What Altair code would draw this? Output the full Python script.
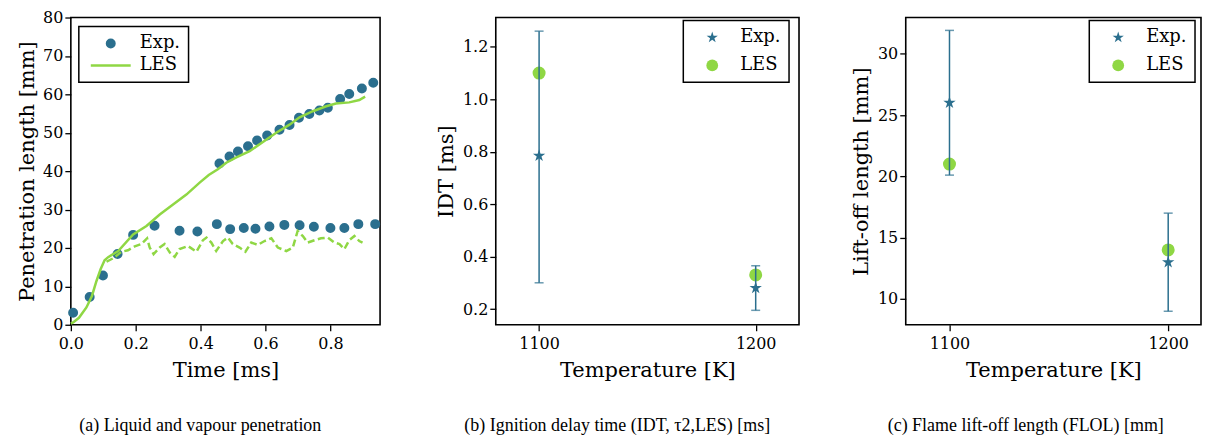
import altair as alt
import pandas as pd

BLUE = "#2b6f8e"
GREEN = "#8fd744"
STAR = ("M0,-1L0.2245,-0.309L0.951,-0.309L0.3633,0.118L0.5878,0.809L0,0.382"
        "L-0.5878,0.809L-0.3633,0.118L-0.951,-0.309L-0.2245,-0.309Z")
DOT = "M-0.75,0A0.75,0.75 0 1,0 0.75,0A0.75,0.75 0 1,0 -0.75,0Z"
DASH = "M-4,0L4,0"
SERIES = ["Exp.", "LES"]
FONT = "DejaVu Serif"
CAP_FONT = "Liberation Serif"

# ---------------- panel (a): penetration ----------------
exp_vap_t = [0.007, 0.058, 0.099, 0.144, 0.192, 0.458, 0.489, 0.515, 0.546, 0.574,
             0.605, 0.643, 0.674, 0.703, 0.735, 0.766, 0.792, 0.830, 0.858, 0.897, 0.932]
exp_vap_y = [3.1, 7.2, 12.8, 18.4, 23.4, 42.0, 43.8, 45.1, 46.5, 48.0,
             49.3, 50.8, 52.0, 53.9, 54.9, 55.8, 56.5, 58.8, 60.1, 61.5, 63.0]
exp_liq_t = [0.258, 0.335, 0.390, 0.450, 0.491, 0.533, 0.569, 0.612, 0.658, 0.705,
             0.749, 0.800, 0.843, 0.886, 0.938]
exp_liq_y = [25.8, 24.5, 24.3, 26.2, 24.9, 25.2, 25.0, 25.6, 26.0, 25.9,
             25.5, 25.2, 25.2, 26.2, 26.2]

les_vap_t = [0.0, 0.007, 0.025, 0.048, 0.065, 0.079, 0.092, 0.104, 0.115, 0.146,
             0.192, 0.233, 0.274, 0.315, 0.356, 0.397, 0.425, 0.453, 0.479, 0.510,
             0.551, 0.592, 0.633, 0.674, 0.705, 0.746, 0.787, 0.817, 0.858, 0.889, 0.907]
les_vap_y = [0.3, 0.6, 1.8, 4.5, 7.5, 11.4, 14.5, 16.8, 17.6, 19.2,
             23.5, 25.7, 28.7, 31.3, 33.9, 37.0, 39.0, 40.5, 42.2, 43.6,
             45.2, 47.6, 50.0, 52.1, 54.0, 55.6, 56.9, 57.6, 57.9, 58.5, 59.4]

les_liq_t = [0.110, 0.130, 0.156, 0.176, 0.197, 0.217, 0.235, 0.243, 0.255, 0.274,
             0.289, 0.305, 0.320, 0.335, 0.361, 0.387, 0.407, 0.418, 0.433, 0.448,
             0.469, 0.484, 0.499, 0.520, 0.538, 0.556, 0.576, 0.597, 0.618, 0.638,
             0.664, 0.684, 0.699, 0.715, 0.730, 0.751, 0.771, 0.792, 0.812, 0.828,
             0.843, 0.858, 0.874, 0.889, 0.899]
les_liq_y = [16.4, 17.3, 19.0, 19.4, 20.4, 21.0, 22.5, 20.1, 18.4, 20.1,
             21.0, 18.8, 17.7, 19.7, 20.5, 19.0, 22.0, 22.7, 21.4, 19.2,
             21.8, 22.7, 21.0, 20.1, 19.0, 21.4, 20.8, 21.8, 22.5, 20.1,
             19.2, 20.1, 24.4, 23.1, 21.4, 22.0, 22.5, 22.7, 21.4, 21.0,
             19.7, 22.0, 23.1, 21.8, 21.4]

# ---------------- panels (b), (c) ----------------
temps = [1100, 1200]
idt_exp = [0.785, 0.28]
idt_lo = [0.30, 0.195]
idt_hi = [1.26, 0.365]
idt_les = [1.10, 0.33]

lol_exp = [26.0, 13.0]
lol_lo = [20.1, 9.0]
lol_hi = [31.9, 17.0]
lol_les = [21.0, 14.0]


def caption(text):
    return alt.TitleParams(text=text, orient="bottom", anchor="middle", frame="bounds",
                           offset=37, font=CAP_FONT, fontSize=18,
                           fontWeight="normal", color="black")


# panel a
exp_a = pd.DataFrame({"t": exp_vap_t + exp_liq_t, "y": exp_vap_y + exp_liq_y})
exp_a["series"] = "Exp."
vap_a = pd.DataFrame({"t": les_vap_t, "y": les_vap_y})
liq_a = pd.DataFrame({"t": les_liq_t, "y": les_liq_y})

xa = alt.X("t:Q", scale=alt.Scale(domain=[0, 0.953], nice=False, zero=False, padding=0),
           axis=alt.Axis(values=[0.0, 0.2, 0.4, 0.6, 0.8], format=".1f",
                         title="Time [ms]", titlePadding=8, labelPadding=5))
ya = alt.Y("y:Q", scale=alt.Scale(domain=[0, 80], nice=False, padding=0),
           axis=alt.Axis(values=[0, 10, 20, 30, 40, 50, 60, 70, 80],
                         title="Penetration length [mm]", titlePadding=5))

legend_a = alt.Legend(title=None, orient="none", legendX=8, legendY=9,
                      symbolSize=100, symbolOffset=15, labelOffset=20,
                      symbolStrokeWidth=2.5, rowPadding=4, padding=8)
col_scale_a = alt.Scale(domain=SERIES, range=[BLUE, GREEN])

pts_a = alt.Chart(exp_a).mark_point(size=100, opacity=1, strokeWidth=2.5).encode(
    x=xa, y=ya,
    fill=alt.Fill("series:N", scale=col_scale_a, legend=legend_a),
    stroke=alt.Stroke("series:N", scale=col_scale_a, legend=legend_a),
    shape=alt.Shape("series:N", scale=alt.Scale(domain=SERIES, range=[DOT, DASH]),
                    legend=legend_a))
vap_line = alt.Chart(vap_a).mark_line(color=GREEN, strokeWidth=2.5).encode(x=xa, y=ya)
liq_line = alt.Chart(liq_a).mark_line(color=GREEN, strokeWidth=2.5,
                                      strokeDash=[7, 3.5]).encode(x=xa, y=ya)
panel_a = alt.layer(pts_a, vap_line, liq_line).properties(
    width=310, height=308, title=caption("(a) Liquid and vapour penetration"))


def panel(exp_v, lo, hi, les_v, xdom, ydom, yvals, yfmt, ytitle, cap, lx, tpad, w):
    pts = pd.DataFrame({"T": temps * 2, "v": exp_v + les_v,
                        "series": ["Exp."] * 2 + ["LES"] * 2})
    err = pd.DataFrame({"T": temps, "lo": lo, "hi": hi})
    x = alt.X("T:Q", scale=alt.Scale(domain=xdom, nice=False, zero=False, padding=0),
              axis=alt.Axis(values=temps, format="d", title="Temperature [K]",
                            titlePadding=8, labelPadding=5))
    yscale = alt.Scale(domain=ydom, nice=False, zero=False, padding=0)
    yaxis = alt.Axis(values=yvals, format=yfmt, title=ytitle, titlePadding=tpad)
    leg = alt.Legend(title=None, orient="none", legendX=lx, legendY=3,
                     symbolSize=140, symbolOffset=12, labelOffset=19,
                     rowPadding=10, padding=8)
    color = alt.Color("series:N", scale=alt.Scale(domain=SERIES, range=[BLUE, GREEN]),
                      legend=leg)
    shape = alt.Shape("series:N", scale=alt.Scale(domain=SERIES, range=[STAR, "circle"]),
                      legend=leg)
    les = alt.Chart(pts).transform_filter("datum.series === 'LES'").mark_point(
        filled=True, size=170, opacity=1).encode(
        x=x, y=alt.Y("v:Q", scale=yscale, axis=yaxis), color=color, shape=shape)
    rule = alt.Chart(err).mark_rule(color=BLUE, strokeWidth=1.5).encode(
        x=x, y=alt.Y("lo:Q", scale=yscale, axis=yaxis), y2="hi:Q")
    caps = alt.Chart(err).transform_fold(["lo", "hi"], as_=["k", "val"]).mark_tick(
        color=BLUE, orient="horizontal", size=9, thickness=1.5).encode(
        x=x, y=alt.Y("val:Q", scale=yscale, axis=yaxis))
    exp = alt.Chart(pts).transform_filter("datum.series === 'Exp.'").mark_point(
        filled=True, size=170, opacity=1).encode(
        x=x, y=alt.Y("v:Q", scale=yscale, axis=yaxis), color=color, shape=shape)
    return alt.layer(les, rule, caps, exp).properties(
        width=w, height=308, title=caption(cap))


panel_b = panel(idt_exp, idt_lo, idt_hi, idt_les, [1080, 1220], [0.14, 1.312],
                [0.2, 0.4, 0.6, 0.8, 1.0, 1.2], ".1f", "IDT [ms]",
                "(b) Ignition delay time (IDT, \u03c42,LES) [ms]", 188, 6, 304)
panel_c = panel(lol_exp, lol_lo, lol_hi, lol_les, [1080, 1215], [7.9, 32.95],
                [10, 15, 20, 25, 30], "d", "Lift-off length [mm]",
                "(c) Flame lift-off length (FLOL) [mm]", 184, 6, 296)

chart = alt.hconcat(panel_a, panel_b, panel_c, spacing=49).resolve_scale(
    color="independent", shape="independent", fill="independent",
    stroke="independent").resolve_legend(
    color="independent", shape="independent", fill="independent",
    stroke="independent").properties(
    padding={"left": 7, "top": 0, "right": 0, "bottom": 0},
    background="white").configure_view(
    stroke="black", strokeWidth=1.6).configure_axis(
    labelFont=FONT, labelFontSize=16, labelColor="black",
    titleFont=FONT, titleFontSize=21, titleFontWeight="normal",
    titleColor="black", tickColor="black", tickWidth=1.3, tickSize=6,
    labelFlush=False, domain=False, grid=False, labelPadding=2).configure_legend(
    labelFont=FONT, labelFontSize=18, labelColor="black",
    strokeColor="black", fillColor="white", cornerRadius=0, strokeWidth=1.5)

chart.save("out.html", embed_options={"renderer": "svg", "actions": False})
